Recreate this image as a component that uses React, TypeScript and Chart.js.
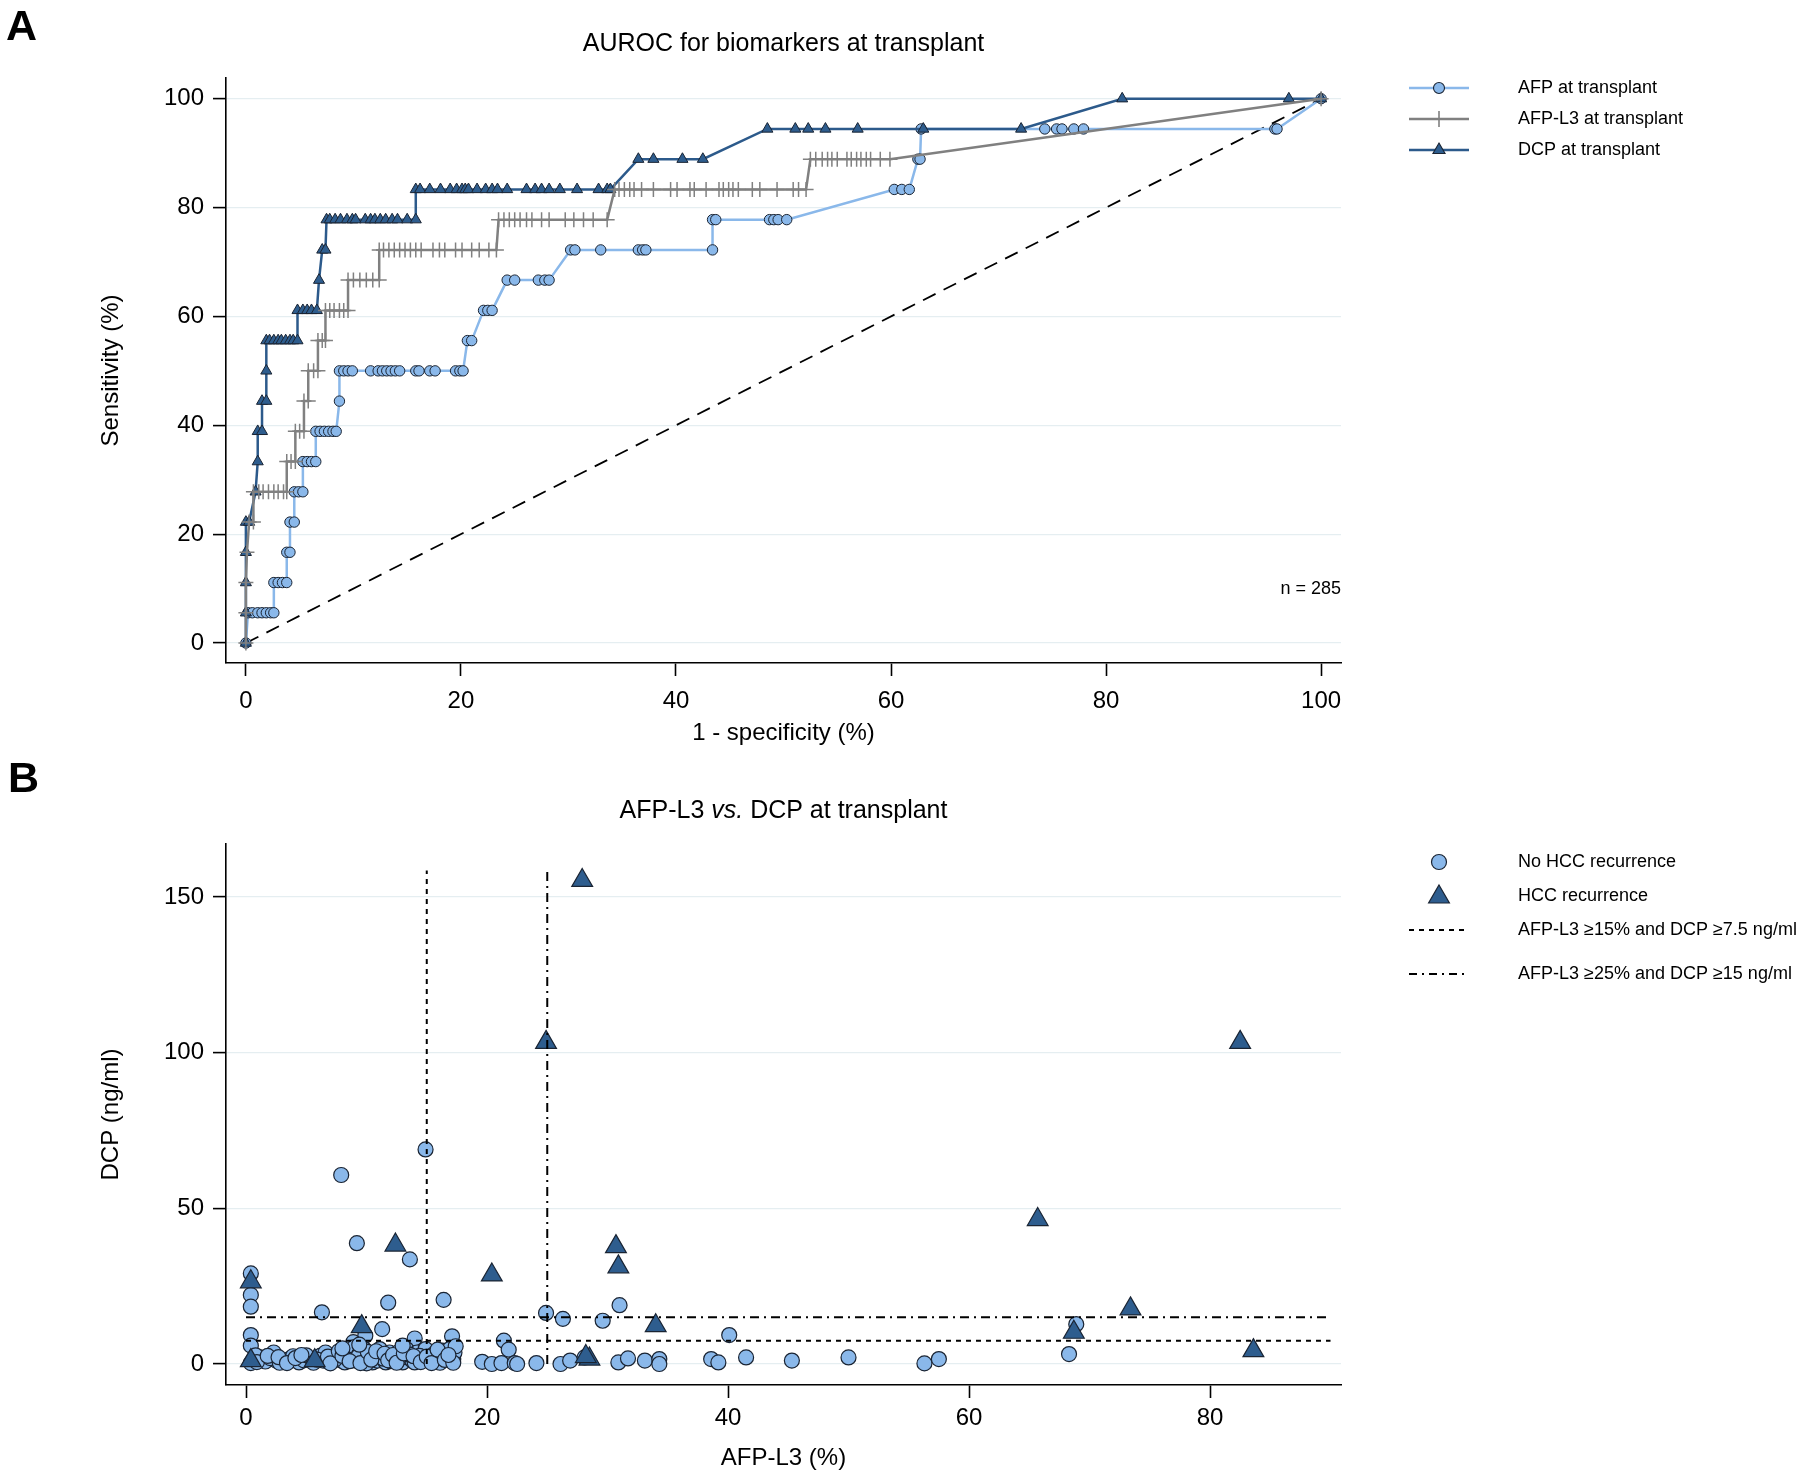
import React, { useEffect, useRef } from 'react';
import { Chart, registerables } from 'chart.js';
Chart.register(...registerables);

const FONT = '"Liberation Sans", Arial, Helvetica, sans-serif';

// ---------- Panel A: ROC curves (1 - specificity %, sensitivity %) ----------
const afpRoc = [
  [0, 0],
  [0.2, 5.56], [0.6, 5.56], [1.1, 5.56], [1.5, 5.56], [1.9, 5.56], [2.3, 5.56], [2.6, 5.56],
  [2.6, 11.11], [3.0, 11.11], [3.4, 11.11], [3.8, 11.11],
  [3.8, 16.67], [4.1, 16.67],
  [4.1, 22.22], [4.5, 22.22],
  [4.5, 27.78], [4.9, 27.78], [5.3, 27.78],
  [5.3, 33.33], [5.7, 33.33], [6.1, 33.33], [6.5, 33.33],
  [6.5, 38.89], [6.9, 38.89], [7.3, 38.89], [7.7, 38.89], [8.1, 38.89], [8.4, 38.89],
  [8.7, 44.44],
  [8.7, 50], [9.1, 50], [9.5, 50], [9.9, 50], [11.6, 50], [12.3, 50], [12.7, 50], [13.1, 50], [13.5, 50],
  [13.9, 50], [14.3, 50], [15.8, 50], [16.1, 50], [17.1, 50], [17.6, 50], [19.5, 50], [19.9, 50], [20.2, 50],
  [20.6, 55.56], [21.0, 55.56],
  [22.1, 61.11], [22.5, 61.11], [22.9, 61.11],
  [24.3, 66.67], [25.0, 66.67], [27.2, 66.67], [27.8, 66.67], [28.2, 66.67],
  [30.2, 72.22], [30.6, 72.22], [33.0, 72.22], [36.5, 72.22], [36.9, 72.22], [37.2, 72.22], [43.4, 72.22],
  [43.4, 77.78], [43.7, 77.78], [48.7, 77.78], [49.1, 77.78], [49.5, 77.78], [50.3, 77.78],
  [60.3, 83.33], [61.0, 83.33], [61.7, 83.33],
  [62.5, 88.89], [62.7, 88.89],
  [62.8, 94.44], [74.3, 94.44], [75.4, 94.44], [75.9, 94.44], [77.0, 94.44], [77.9, 94.44], [95.7, 94.44], [95.9, 94.44],
  [100, 100],
];

const afpL3Roc = [
  [0, 0], [0, 5.56], [0, 11.11], [0.1, 16.67],
  [0.3, 22.22], [0.7, 22.22],
  [0.7, 27.78], [1.2, 27.78], [1.6, 27.78], [2.1, 27.78], [2.6, 27.78], [3.0, 27.78], [3.5, 27.78], [3.8, 27.78],
  [3.8, 33.33], [4.2, 33.33], [4.6, 33.33],
  [4.6, 38.89], [5.0, 38.89], [5.4, 38.89],
  [5.4, 44.44], [5.8, 44.44],
  [5.8, 50], [6.3, 50], [6.7, 50],
  [6.7, 55.56], [7.1, 55.56], [7.4, 55.56],
  [7.4, 61.11], [7.8, 61.11], [8.2, 61.11], [8.7, 61.11], [9.1, 61.11], [9.5, 61.11],
  [9.5, 66.67], [10.0, 66.67], [10.6, 66.67], [11.2, 66.67], [11.8, 66.67], [12.4, 66.67],
  [12.4, 72.22], [12.8, 72.22], [13.3, 72.22], [13.8, 72.22], [14.3, 72.22], [14.8, 72.22], [15.3, 72.22],
  [15.8, 72.22], [16.3, 72.22], [17.4, 72.22], [18.0, 72.22], [18.5, 72.22], [19.5, 72.22], [20.1, 72.22],
  [21.0, 72.22], [21.7, 72.22], [22.6, 72.22], [23.3, 72.22],
  [23.5, 77.78], [24.0, 77.78], [24.5, 77.78], [25.0, 77.78], [25.5, 77.78], [26.1, 77.78], [26.6, 77.78],
  [27.5, 77.78], [28.2, 77.78], [29.7, 77.78], [30.5, 77.78], [31.4, 77.78], [32.3, 77.78], [33.6, 77.78],
  [34.3, 83.33], [34.7, 83.33], [35.2, 83.33], [35.7, 83.33], [36.1, 83.33], [36.8, 83.33], [37.9, 83.33],
  [39.5, 83.33], [40.1, 83.33], [41.3, 83.33], [41.7, 83.33], [42.8, 83.33], [44.0, 83.33], [44.4, 83.33],
  [44.9, 83.33], [45.3, 83.33], [45.8, 83.33], [47.1, 83.33], [47.8, 83.33], [49.4, 83.33], [50.9, 83.33],
  [51.4, 83.33], [52.1, 83.33],
  [52.5, 88.89], [53.0, 88.89], [53.6, 88.89], [54.1, 88.89], [54.5, 88.89], [55.0, 88.89], [55.9, 88.89],
  [56.3, 88.89], [56.8, 88.89], [57.2, 88.89], [57.7, 88.89], [58.1, 88.89], [59.0, 88.89], [59.9, 88.89],
  [100, 100],
];

const dcpRoc = [
  [0, 0], [0, 5.56], [0, 11.11], [0, 16.67], [0, 22.22], [0.3, 22.22],
  [0.9, 27.78], [1.1, 33.33], [1.1, 38.89], [1.5, 38.89], [1.5, 44.44], [1.9, 44.44], [1.9, 50],
  [1.9, 55.56], [2.2, 55.56], [2.6, 55.56], [3.0, 55.56], [3.3, 55.56], [3.7, 55.56], [4.1, 55.56], [4.4, 55.56], [4.8, 55.56],
  [4.8, 61.11], [5.3, 61.11], [5.7, 61.11], [6.1, 61.11], [6.6, 61.11],
  [6.8, 66.67], [7.1, 72.22], [7.4, 72.22],
  [7.5, 77.78], [7.8, 77.78], [8.3, 77.78], [8.8, 77.78], [9.4, 77.78], [9.9, 77.78], [10.2, 77.78], [11.1, 77.78],
  [11.6, 77.78], [12.0, 77.78], [12.5, 77.78], [13.0, 77.78], [13.6, 77.78], [14.1, 77.78], [15.0, 77.78], [15.8, 77.78],
  [15.8, 83.33], [16.2, 83.33], [17.1, 83.33], [18.1, 83.33], [19.0, 83.33], [19.6, 83.33], [20.1, 83.33], [20.4, 83.33],
  [20.7, 83.33], [21.5, 83.33], [22.3, 83.33], [22.9, 83.33], [23.4, 83.33], [24.3, 83.33], [26.1, 83.33], [26.9, 83.33],
  [27.5, 83.33], [28.2, 83.33], [29.2, 83.33], [30.8, 83.33], [32.8, 83.33], [33.6, 83.33], [33.9, 83.33],
  [36.5, 88.89], [37.9, 88.89], [40.6, 88.89], [42.5, 88.89],
  [48.5, 94.44], [51.1, 94.44], [52.3, 94.44], [53.9, 94.44], [56.9, 94.44], [63.0, 94.44], [72.1, 94.44],
  [81.5, 100], [97.0, 100], [100, 100],
];

const chanceLine = [[0, 0], [100, 100]];
const ticksA = [0, 20, 40, 60, 80, 100];
const labelsA = ['AFP at transplant', 'AFP-L3 at transplant', 'DCP at transplant'];
const nLabel = 'n = 285';

// ---------- Panel B: AFP-L3 (%) vs DCP (ng/ml) ----------
const noRecurrence = [
  [14.9, 68.9], [7.9, 60.7], [9.2, 38.8], [13.6, 33.6], [0.4, 29.1], [0.4, 22.2], [0.4, 18.4], [11.8, 19.7],
  [16.4, 20.6], [31.0, 18.9], [6.3, 16.6], [24.9, 16.4], [26.3, 14.5], [29.6, 13.9], [68.9, 12.8], [11.3, 11.2],
  [40.1, 9.3], [0.4, 9.3], [9.9, 9.1], [17.1, 8.9], [14.0, 8.2], [21.4, 7.5], [8.9, 7.0], [0.4, 5.9], [21.8, 4.6],
  [68.3, 3.2],
  [1.2, 2.1], [2.3, 3.7], [2.5, 1.1], [3.2, 1.1], [3.6, 1.6], [4.4, 0.5], [5.3, 1.6], [6.2, 2.7], [6.4, 1.1],
  [6.6, 3.7], [7.2, 2.1], [7.6, 3.2], [7.9, 1.1], [8.2, 0.5], [8.3, 3.7], [8.7, 2.1], [9.0, 5.4], [9.1, 1.1],
  [9.4, 3.2], [9.7, 1.1], [9.8, 4.8], [10.2, 2.1], [10.5, 0.5], [10.9, 1.1], [11.1, 4.8], [11.3, 2.7], [11.6, 0.5],
  [11.9, 3.7], [12.3, 1.6], [12.6, 3.7], [13.0, 0.5], [13.3, 4.8], [13.4, 2.1], [13.8, 1.1], [14.0, 0.5], [14.2, 3.7],
  [14.7, 1.6], [14.9, 4.8], [15.2, 1.1], [16.0, 1.6], [16.3, 4.3], [16.6, 2.1], [16.9, 4.8], [17.0, 1.1], [17.2, 1.6],
  [17.3, 3.7],
  [0.4, 0.3], [0.6, 1.5], [0.8, 2.8], [1.6, 0.8], [2.0, 1.9], [2.8, 0.4], [3.9, 2.5], [4.8, 1.2], [5.0, 2.8],
  [5.6, 0.4], [6.9, 0.6], [7.4, 1.5], [8.5, 1.4], [9.3, 2.4], [10.0, 0.2], [10.7, 2.9], [11.4, 1.7], [12.0, 0.9],
  [12.8, 2.5], [13.6, 3.0], [14.4, 2.6], [15.6, 3.2], [16.1, 0.4],
  [0.9, 0.6], [1.8, 2.6], [2.7, 2.2], [3.4, 0.3], [4.1, 1.9], [4.6, 2.9], [5.9, 1.4], [6.8, 2.4], [7.0, 0.2],
  [7.7, 4.1], [8.0, 2.6], [8.6, 0.9], [9.5, 0.3], [10.1, 3.9], [10.4, 1.4], [10.8, 4.1], [11.5, 3.3], [11.8, 1.2],
  [12.2, 2.9], [12.5, 0.4], [13.1, 3.4], [13.9, 2.5], [14.5, 0.6], [15.0, 2.4], [15.4, 0.3], [15.9, 4.6], [16.5, 1.3],
  [17.4, 5.7], [17.2, 0.4], [8.0, 5.0], [9.4, 6.2], [13.0, 5.9], [16.8, 2.9],
  [19.6, 0.7], [20.4, 0.0], [21.2, 0.3], [22.3, 0.3], [22.5, 0.0], [24.1, 0.3], [26.1, 0.0], [26.9, 1.1], [28.1, 2.1],
  [30.9, 0.5], [31.7, 1.8], [33.1, 1.1], [34.3, 1.6], [34.3, 0.0], [38.6, 1.6], [39.2, 0.5], [41.5, 2.1], [45.3, 1.1],
  [50.0, 2.1], [56.3, 0.2], [57.5, 1.6],
];

const recurrence = [
  [0.4, 26.4], [0.4, 1.1], [5.7, 1.1], [9.6, 12.0], [12.4, 38.2], [20.4, 28.6], [24.9, 103.3], [27.9, 155.3],
  [28.5, 1.6], [28.2, 2.4], [30.7, 37.7], [30.9, 31.2], [34.0, 12.3], [65.7, 46.4], [68.7, 10.2], [73.4, 17.7],
  [82.5, 103.3], [83.6, 4.3],
];

const cut1Vertical = [[15, 0], [15, 158.5]];
const cut1Horizontal = [[0, 7.5], [90, 7.5]];
const cut2Vertical = [[25, 0], [25, 158.5]];
const cut2Horizontal = [[0, 15], [90, 15]];
const ticksBx = [0, 20, 40, 60, 80];
const ticksBy = [0, 50, 100, 150];
const labelsB = ['No HCC recurrence', 'HCC recurrence', 'AFP-L3 \u226515% and DCP \u22657.5 ng/ml', 'AFP-L3 \u226525% and DCP \u226515 ng/ml'];

// ---------- styles ----------
const C_AFP = '#8ab8ea';
const C_L3 = '#808080';
const C_DCP = '#2c5a8b';
const C_TRI = '#2e5d8e';
const C_EDGE = '#1a2433';
const C_GRID = '#e5eef1';

const toXY = (arr: number[][]) => arr.map(([x, y]) => ({ x, y }));

function drawMarker(ctx: CanvasRenderingContext2D, style: string, x: number, y: number, r: number, fill: string, stroke: string, lw: number) {
  ctx.save();
  ctx.lineWidth = lw;
  ctx.strokeStyle = stroke;
  ctx.fillStyle = fill;
  ctx.beginPath();
  if (style === 'circle') {
    ctx.arc(x, y, r, 0, Math.PI * 2);
    ctx.fill();
    ctx.stroke();
  } else if (style === 'triangle') {
    for (let k = 0; k < 3; k++) {
      const a = (k * 2 * Math.PI) / 3;
      const px = x + Math.sin(a) * r;
      const py = y - Math.cos(a) * r;
      if (k === 0) ctx.moveTo(px, py); else ctx.lineTo(px, py);
    }
    ctx.closePath();
    ctx.fill();
    ctx.stroke();
  } else if (style === 'cross') {
    ctx.moveTo(x, y - r); ctx.lineTo(x, y + r);
    ctx.moveTo(x - r, y); ctx.lineTo(x + r, y);
    ctx.stroke();
  }
  ctx.restore();
}

function lineSample(ctx: CanvasRenderingContext2D, x0: number, x1: number, y: number, color: string, w: number, dash: number[]) {
  ctx.save();
  ctx.strokeStyle = color;
  ctx.lineWidth = w;
  ctx.setLineDash(dash);
  ctx.beginPath();
  ctx.moveTo(x0, y);
  ctx.lineTo(x1, y);
  ctx.stroke();
  ctx.restore();
}

const decorA = {
  id: 'decorA',
  afterDraw(chart: any) {
    const ctx: CanvasRenderingContext2D = chart.ctx;
    const ca = chart.chartArea;
    const cx = (ca.left + ca.right) / 2;
    ctx.save();
    ctx.fillStyle = '#000';
    ctx.font = `bold 43px ${FONT}`;
    ctx.textAlign = 'left';
    ctx.textBaseline = 'alphabetic';
    ctx.fillText('A', 6, 40);
    ctx.textAlign = 'center';
    ctx.textBaseline = 'middle';
    ctx.font = `25px ${FONT}`;
    ctx.fillText('AUROC for biomarkers at transplant', cx, 44);
    ctx.font = `24px ${FONT}`;
    ctx.fillText('1 - specificity (%)', cx, 733);
    ctx.save();
    ctx.translate(111, (ca.top + ca.bottom) / 2);
    ctx.rotate(-Math.PI / 2);
    ctx.fillText('Sensitivity (%)', 0, 0);
    ctx.restore();
    ctx.font = `18px ${FONT}`;
    ctx.textAlign = 'right';
    ctx.fillText(nLabel, ca.right, 589);
    // legend
    const rows = [88, 119, 150];
    const lx0 = 1409, lx1 = 1469, mx = 1439, tx = 1518;
    lineSample(ctx, lx0, lx1, rows[0], C_AFP, 2.5, []);
    drawMarker(ctx, 'circle', mx, rows[0], 5.5, C_AFP, C_EDGE, 1.1);
    lineSample(ctx, lx0, lx1, rows[1], C_L3, 2.5, []);
    drawMarker(ctx, 'cross', mx, rows[1], 8, C_L3, C_L3, 1.6);
    lineSample(ctx, lx0, lx1, rows[2], C_DCP, 2.5, []);
    drawMarker(ctx, 'triangle', mx, rows[2], 7, C_TRI, C_EDGE, 1.1);
    ctx.textAlign = 'left';
    ctx.font = `18px ${FONT}`;
    ctx.fillStyle = '#000';
    labelsA.forEach((t, i) => ctx.fillText(t, tx, rows[i]));
    ctx.restore();
  },
};

const decorB = {
  id: 'decorB',
  afterDraw(chart: any) {
    const ctx: CanvasRenderingContext2D = chart.ctx;
    const ca = chart.chartArea;
    const cx = (ca.left + ca.right) / 2;
    ctx.save();
    ctx.fillStyle = '#000';
    ctx.font = `bold 43px ${FONT}`;
    ctx.textAlign = 'left';
    ctx.textBaseline = 'alphabetic';
    ctx.fillText('B', 8, 42);
    // title with italic "vs."
    ctx.textBaseline = 'middle';
    const p1 = 'AFP-L3 ', p2 = 'vs.', p3 = ' DCP at transplant';
    ctx.font = `25px ${FONT}`;
    const w1 = ctx.measureText(p1).width, w3 = ctx.measureText(p3).width;
    ctx.font = `italic 25px ${FONT}`;
    const w2 = ctx.measureText(p2).width;
    let x = cx - (w1 + w2 + w3) / 2;
    ctx.font = `25px ${FONT}`;
    ctx.fillText(p1, x, 61);
    x += w1;
    ctx.font = `italic 25px ${FONT}`;
    ctx.fillText(p2, x, 61);
    x += w2;
    ctx.font = `25px ${FONT}`;
    ctx.fillText(p3, x, 61);
    ctx.textAlign = 'center';
    ctx.font = `24px ${FONT}`;
    ctx.fillText('AFP-L3 (%)', cx, 708);
    ctx.save();
    ctx.translate(111, (ca.top + ca.bottom) / 2);
    ctx.rotate(-Math.PI / 2);
    ctx.fillText('DCP (ng/ml)', 0, 0);
    ctx.restore();
    // legend
    const rows = [112, 146, 180, 224];
    const lx0 = 1409, lx1 = 1469, mx = 1439, tx = 1518;
    drawMarker(ctx, 'circle', mx, rows[0], 7.5, C_AFP, C_EDGE, 1.2);
    drawMarker(ctx, 'triangle', mx, rows[1] + 1, 12, C_TRI, C_EDGE, 1.2);
    lineSample(ctx, lx0, lx1, rows[2], '#000', 1.8, [5, 5]);
    lineSample(ctx, lx0, lx1, rows[3], '#000', 1.8, [8, 5, 2, 5]);
    ctx.textAlign = 'left';
    ctx.font = `18px ${FONT}`;
    ctx.fillStyle = '#000';
    labelsB.forEach((t, i) => ctx.fillText(t, tx, rows[i]));
    ctx.restore();
  },
};

function axisCommon(ticks: number[], min: number, max: number, isY: boolean, fixed: number, pad: number) {
  return {
    type: 'linear',
    min,
    max,
    afterBuildTicks: (axis: any) => { axis.ticks = ticks.map((v) => ({ value: v })); },
    afterFit: (axis: any) => { if (isY) axis.width = fixed; else axis.height = fixed; },
    border: { display: true, color: '#000', width: 1.6 },
    grid: isY
      ? { display: true, drawOnChartArea: true, color: C_GRID, lineWidth: 1.2, tickColor: '#000', tickWidth: 1.6, tickLength: 13 }
      : { display: true, drawOnChartArea: false, tickColor: '#000', tickWidth: 1.6, tickLength: 13 },
    ticks: {
      color: '#000',
      font: { family: FONT, size: 24 },
      padding: pad,
      maxRotation: 0,
      autoSkip: false,
    },
  };
}

export default function App() {
  const refA = useRef<HTMLCanvasElement>(null);
  const refB = useRef<HTMLCanvasElement>(null);

  useEffect(() => {
    const chartA = new Chart(refA.current as HTMLCanvasElement, {
      type: 'scatter',
      data: {
        datasets: [
          {
            label: labelsA[1], data: toXY(afpL3Roc), showLine: true, order: 0,
            borderColor: C_L3, borderWidth: 2.5, pointStyle: 'cross', pointRadius: 7.5,
            pointBorderColor: C_L3, pointBackgroundColor: C_L3, pointBorderWidth: 1.5,
          },
          {
            label: labelsA[2], data: toXY(dcpRoc), showLine: true, order: 1,
            borderColor: C_DCP, borderWidth: 2.5, pointStyle: 'triangle', pointRadius: 6.4,
            pointBorderColor: C_EDGE, pointBackgroundColor: C_TRI, pointBorderWidth: 1,
          },
          {
            label: labelsA[0], data: toXY(afpRoc), showLine: true, order: 2,
            borderColor: C_AFP, borderWidth: 2.5, pointStyle: 'circle', pointRadius: 5.2,
            pointBorderColor: C_EDGE, pointBackgroundColor: C_AFP, pointBorderWidth: 1,
          },
          {
            label: 'reference', data: toXY(chanceLine), showLine: true, order: 3,
            borderColor: '#000', borderWidth: 1.8, borderDash: [14, 9], pointRadius: 0,
          },
        ],
      } as any,
      options: {
        responsive: false,
        animation: false,
        devicePixelRatio: 1,
        layout: { padding: { left: 0, top: 78, right: 459, bottom: 0 } },
        plugins: { legend: { display: false }, tooltip: { enabled: false }, title: { display: false } },
        elements: { line: { tension: 0 } },
        scales: {
          x: axisCommon(ticksA, -1.85, 101.85, false, 87, 11),
          y: axisCommon(ticksA, -3.67, 103.8, true, 226, 9),
        },
      } as any,
      plugins: [decorA],
    });

    const chartB = new Chart(refB.current as HTMLCanvasElement, {
      type: 'scatter',
      data: {
        datasets: [
          { label: 'c1v', data: toXY(cut1Vertical), showLine: true, order: 0, borderColor: '#000', borderWidth: 2, borderDash: [5, 5], pointRadius: 0 },
          { label: 'c1h', data: toXY(cut1Horizontal), showLine: true, order: 0, borderColor: '#000', borderWidth: 2, borderDash: [5, 5], pointRadius: 0 },
          { label: 'c2v', data: toXY(cut2Vertical), showLine: true, order: 0, borderColor: '#000', borderWidth: 2, borderDash: [9, 5, 2, 5], pointRadius: 0 },
          { label: 'c2h', data: toXY(cut2Horizontal), showLine: true, order: 0, borderColor: '#000', borderWidth: 2, borderDash: [9, 5, 2, 5], pointRadius: 0 },
          {
            label: labelsB[1], data: toXY(recurrence), order: 1, pointStyle: 'triangle', pointRadius: 12,
            pointBackgroundColor: C_TRI, pointBorderColor: C_EDGE, pointBorderWidth: 1.2,
          },
          {
            label: labelsB[0], data: toXY(noRecurrence), order: 2, pointStyle: 'circle', pointRadius: 7.5,
            pointBackgroundColor: C_AFP, pointBorderColor: C_EDGE, pointBorderWidth: 1.2,
          },
        ],
      } as any,
      options: {
        responsive: false,
        animation: false,
        devicePixelRatio: 1,
        layout: { padding: { left: 0, top: 94, right: 459, bottom: 0 } },
        plugins: { legend: { display: false }, tooltip: { enabled: false }, title: { display: false } },
        elements: { line: { tension: 0 } },
        scales: {
          x: axisCommon(ticksBx, -1.66, 90.87, false, 92, 6),
          y: axisCommon(ticksBy, -6.74, 167.0, true, 226, 9),
        },
      } as any,
      plugins: [decorB],
    });

    return () => {
      chartA.destroy();
      chartB.destroy();
    };
  }, []);

  return (
    <div style={{ position: 'absolute', left: 0, top: 0, width: 1800, height: 1477, background: '#fff', overflow: 'hidden' }}>
      <canvas ref={refA} width={1800} height={750} style={{ position: 'absolute', left: 0, top: 0, width: 1800, height: 750 }} />
      <canvas ref={refB} width={1800} height={727} style={{ position: 'absolute', left: 0, top: 750, width: 1800, height: 727 }} />
    </div>
  );
}
